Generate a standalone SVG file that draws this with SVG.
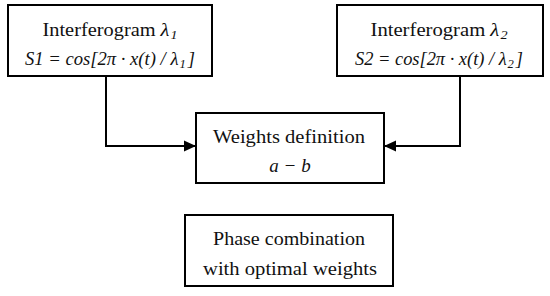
<svg xmlns="http://www.w3.org/2000/svg" width="550" height="296" viewBox="0 0 550 296">
<defs>
<style>
.box{fill:#fff;stroke:#000;stroke-width:2}
.t{font-family:"Liberation Serif","Times New Roman",serif;font-size:19px;fill:#111;text-anchor:middle}
.i{font-style:italic}
.sub{font-size:13px;font-style:italic}
.c{fill:none;stroke:#000;stroke-width:2}
</style>
<marker id="ah" viewBox="0 0 12 12" refX="12" refY="6" markerWidth="12" markerHeight="12" markerUnits="userSpaceOnUse" orient="auto">
<path d="M0,0.5 L12,6 L0,11.5 Z" fill="#000"/>
</marker>
</defs>
<rect width="550" height="296" fill="#fff"/>
<g id="connectors">
<path class="c" d="M106,76 V146 H196" marker-end="url(#ah)"/>
<path class="c" d="M460,76 V146 H384" marker-end="url(#ah)"/>
</g>
<g id="interferogram1">
<rect class="box" x="8" y="5" width="204" height="71"/>
<text class="t" x="110" y="36" textLength="135" lengthAdjust="spacingAndGlyphs">Interferogram <tspan class="i">λ</tspan><tspan class="sub" dx="1" dy="3">1</tspan></text>
<text class="t i" x="110" y="65" textLength="170" lengthAdjust="spacingAndGlyphs">S1 = cos[2π · x(t) / λ<tspan class="sub" dx="1" dy="3">1</tspan><tspan dx="2" dy="-3">]</tspan></text>
</g>
<g id="interferogram2">
<rect class="box" x="337" y="5" width="206" height="71"/>
<text class="t" x="439" y="36" textLength="137" lengthAdjust="spacingAndGlyphs">Interferogram <tspan class="i">λ</tspan><tspan class="sub" dx="1" dy="3">2</tspan></text>
<text class="t i" x="439" y="65" textLength="168" lengthAdjust="spacingAndGlyphs">S2 = cos[2π · x(t) / λ<tspan class="sub" dx="1" dy="3">2</tspan><tspan dx="2" dy="-3">]</tspan></text>
</g>
<g id="weights">
<rect class="box" x="196" y="113" width="188" height="70"/>
<text class="t" x="289" y="143" textLength="152" lengthAdjust="spacingAndGlyphs">Weights definition</text>
<text class="t i" x="290" y="172">a − b</text>
</g>
<g id="phase">
<rect class="box" x="185" y="215" width="208" height="71"/>
<text class="t" x="289" y="245" textLength="152" lengthAdjust="spacingAndGlyphs">Phase combination</text>
<text class="t" x="290" y="275" textLength="174" lengthAdjust="spacingAndGlyphs">with optimal weights</text>
</g>
</svg>
